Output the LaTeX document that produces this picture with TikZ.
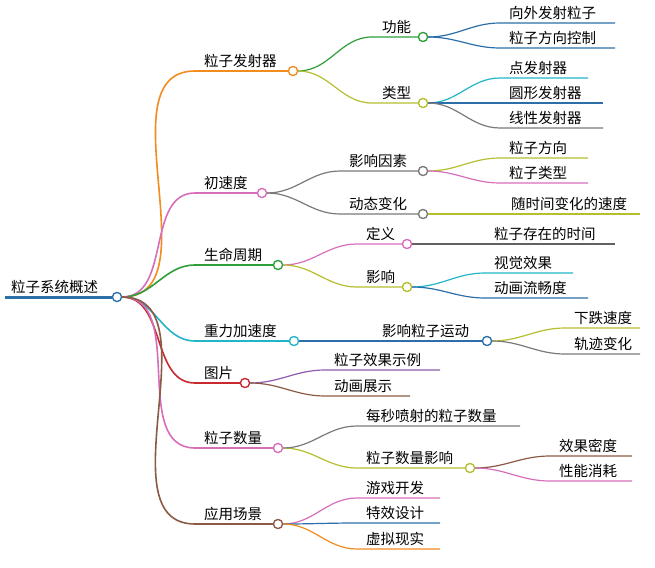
\documentclass[tikz,border=0pt]{standalone}
\usepackage{fontspec}
\newfontfamily\cjk{Noto Sans CJK SC}
\usetikzlibrary{positioning}
\definecolor{rootColor}{RGB}{44,111,168}
\definecolor{orangeColor}{RGB}{242,140,30}
\definecolor{pinkColor}{RGB}{214,110,186}
\definecolor{greenColor}{RGB}{46,158,58}
\definecolor{cyanColor}{RGB}{34,181,200}
\definecolor{redColor}{RGB}{200,40,46}
\definecolor{brownColor}{RGB}{139,90,68}
\definecolor{blueColor}{RGB}{44,111,168}
\definecolor{oliveColor}{RGB}{181,190,46}
\definecolor{grayColor}{RGB}{122,122,122}
\definecolor{purpleColor}{RGB}{142,91,173}
\tikzset{topic/.style={font=\cjk\fontsize{14.5}{15}\selectfont, inner sep=1pt, anchor=south west}}
\tikzset{knob/.style={circle, draw, fill=white, inner sep=0pt, minimum size=9pt, line width=1.2pt}}
\tikzset{branch/.style={line width=1.6pt}}
\tikzset{twig/.style={line width=1.2pt}}

\begin{document}
\begin{tikzpicture}[x=1pt, y=-1pt]
	\useasboundingbox (0,0) rectangle (655,567);
	% Root
	\node[topic] (root) at (10,295) {粒子系统概述};
	\node[knob, draw=rootColor] (rootk) at (117,297) {};
	\draw[rootColor, line width=3pt] (5,297) -- (rootk);

	% Level 1
	\coordinate (fsq) at (195,71);
	\node[topic] (fs) at (203,69) {粒子发射器};
	\node[knob, draw=orangeColor] (fsk) at (293,71) {};
	\coordinate (csq) at (195,193);
	\node[topic] (cs) at (203,191) {初速度};
	\node[knob, draw=pinkColor] (csk) at (262,193) {};
	\coordinate (smq) at (195,265);
	\node[topic] (sm) at (203,263) {生命周期};
	\node[knob, draw=greenColor] (smk) at (278,265) {};
	\coordinate (zlq) at (195,341);
	\node[topic] (zl) at (203,339) {重力加速度};
	\node[knob, draw=cyanColor] (zlk) at (294,341) {};
	\coordinate (tpq) at (195,383);
	\node[topic] (tp) at (203,381) {图片};
	\node[knob, draw=redColor] (tpk) at (245,383) {};
	\coordinate (slq) at (195,448);
	\node[topic] (sl) at (203,446) {粒子数量};
	\node[knob, draw=pinkColor] (slk) at (278,448) {};
	\coordinate (yyq) at (195,524);
	\node[topic] (yy) at (203,522) {应用场景};
	\node[knob, draw=brownColor] (yyk) at (278,524) {};

	% Level 2
	\coordinate (gnq) at (372,37);
	\node[topic] (gn) at (381,35) {功能};
	\node[knob, draw=greenColor] (gnk) at (423,37) {};
	\coordinate (lxq) at (372,103);
	\node[topic] (lx) at (381,101) {类型};
	\node[knob, draw=oliveColor] (lxk) at (423,103) {};
	\coordinate (yxq) at (340,171);
	\node[topic] (yx) at (348,169) {影响因素};
	\node[knob, draw=grayColor] (yxk) at (423,171) {};
	\coordinate (dtq) at (340,214);
	\node[topic] (dt) at (348,212) {动态变化};
	\node[knob, draw=grayColor] (dtk) at (423,214) {};
	\coordinate (dyq) at (357,244);
	\node[topic] (dy) at (365,242) {定义};
	\node[knob, draw=pinkColor] (dyk) at (407,244) {};
	\coordinate (yxbq) at (357,287);
	\node[topic] (yxb) at (365,285) {影响};
	\node[knob, draw=oliveColor] (yxbk) at (407,287) {};
	\node[topic] (yd) at (381,339) {影响粒子运动};
	\node[knob, draw=blueColor] (ydk) at (487,341) {};
	\coordinate (slyq) at (357,468);
	\node[topic] (sly) at (365,466) {粒子数量影响};
	\node[knob, draw=oliveColor] (slyk) at (470,468) {};

	% Leaves
	\coordinate (l1) at (500,23); \coordinate (l1e) at (615,23);
	\node[topic] at (508,21) {向外发射粒子};
	\coordinate (l2) at (500,48); \coordinate (l2e) at (615,48);
	\node[topic] at (508,46) {粒子方向控制};
	\coordinate (l3) at (500,78); \coordinate (l3e) at (588,78);
	\node[topic] at (508,76) {点发射器};
	\coordinate (l4) at (500,103); \coordinate (l4e) at (603,103);
	\node[topic] at (508,101) {圆形发射器};
	\coordinate (l5) at (500,128); \coordinate (l5e) at (603,128);
	\node[topic] at (508,126) {线性发射器};
	\coordinate (l6) at (500,158); \coordinate (l6e) at (588,158);
	\node[topic] at (508,156) {粒子方向};
	\coordinate (l7) at (500,183); \coordinate (l7e) at (588,183);
	\node[topic] at (508,181) {粒子类型};
	\coordinate (l8e) at (640,214);
	\node[topic] at (510,212) {随时间变化的速度};
	\coordinate (l9e) at (615,244);
	\node[topic] at (493,242) {粒子存在的时间};
	\coordinate (l10) at (485,273); \coordinate (l10e) at (573,273);
	\node[topic] at (493,271) {视觉效果};
	\coordinate (l11) at (485,298); \coordinate (l11e) at (588,298);
	\node[topic] at (493,296) {动画流畅度};
	\coordinate (l12) at (565,328); \coordinate (l12e) at (640,328);
	\node[topic] at (573,326) {下跌速度};
	\coordinate (l13) at (565,354); \coordinate (l13e) at (640,354);
	\node[topic] at (573,352) {轨迹变化};
	\coordinate (l14) at (325,370); \coordinate (l14e) at (440,370);
	\node[topic] at (333,368) {粒子效果示例};
	\coordinate (l15) at (325,396); \coordinate (l15e) at (410,396);
	\node[topic] at (333,394) {动画展示};
	\coordinate (l16) at (357,426); \coordinate (l16e) at (520,426);
	\node[topic] at (365,424) {每秒喷射的粒子数量};
	\coordinate (l17) at (550,456); \coordinate (l17e) at (632,456);
	\node[topic] at (558,454) {效果密度};
	\coordinate (l18) at (550,481); \coordinate (l18e) at (632,481);
	\node[topic] at (558,479) {性能消耗};
	\coordinate (l19) at (357,498); \coordinate (l19e) at (440,498);
	\node[topic] at (365,496) {游戏开发};
	\coordinate (l20) at (357,523); \coordinate (l20e) at (440,523);
	\node[topic] at (365,521) {特效设计};
	\coordinate (l21) at (357,549); \coordinate (l21e) at (440,549);
	\node[topic] at (365,547) {虚拟现实};

	% Connectors
	\begin{scope}[branch]
	\draw[orangeColor] (rootk) to[out=0,in=180] (fsq) -- (fsk);
	\draw[pinkColor] (rootk) to[out=0,in=180] (csq) -- (csk);
	\draw[greenColor] (rootk) to[out=0,in=180] (smq) -- (smk);
	\draw[cyanColor] (rootk) to[out=0,in=180] (zlq) -- (zlk);
	\draw[redColor] (rootk) to[out=0,in=180] (tpq) -- (tpk);
	\draw[pinkColor] (rootk) to[out=0,in=180] (slq) -- (slk);
	\draw[brownColor] (rootk) to[out=0,in=180] (yyq) -- (yyk);
	\end{scope}
	\begin{scope}[twig]
	\draw[greenColor] (fsk) to[out=0,in=180] (gnq) -- (gnk);
	\draw[oliveColor] (fsk) to[out=0,in=180] (lxq) -- (lxk);
	\draw[grayColor] (csk) to[out=0,in=180] (yxq) -- (yxk);
	\draw[grayColor] (csk) to[out=0,in=180] (dtq) -- (dtk);
	\draw[pinkColor] (smk) to[out=0,in=180] (dyq) -- (dyk);
	\draw[oliveColor] (smk) to[out=0,in=180] (yxbq) -- (yxbk);
	\draw[blueColor] (zlk) -- (ydk);
	\draw[oliveColor] (slk) to[out=0,in=180] (slyq) -- (slyk);
	\draw[blueColor] (gnk) to[out=0,in=180] (l1) -- (l1e);
	\draw[blueColor] (gnk) to[out=0,in=180] (l2) -- (l2e);
	\draw[cyanColor] (lxk) to[out=0,in=180] (l3) -- (l3e);
	\draw[blueColor] (lxk) -- (l4e);
	\draw[grayColor] (lxk) to[out=0,in=180] (l5) -- (l5e);
	\draw[oliveColor] (yxk) to[out=0,in=180] (l6) -- (l6e);
	\draw[pinkColor] (yxk) to[out=0,in=180] (l7) -- (l7e);
	\draw[oliveColor] (dtk) -- (l8e);
	\draw[grayColor!80!black] (dyk) -- (l9e);
	\draw[cyanColor] (yxbk) to[out=0,in=180] (l10) -- (l10e);
	\draw[blueColor] (yxbk) to[out=0,in=180] (l11) -- (l11e);
	\draw[oliveColor] (ydk) to[out=0,in=180] (l12) -- (l12e);
	\draw[grayColor] (ydk) to[out=0,in=180] (l13) -- (l13e);
	\draw[purpleColor] (tpk) to[out=0,in=180] (l14) -- (l14e);
	\draw[brownColor] (tpk) to[out=0,in=180] (l15) -- (l15e);
	\draw[grayColor] (slk) to[out=0,in=180] (l16) -- (l16e);
	\draw[brownColor] (slyk) to[out=0,in=180] (l17) -- (l17e);
	\draw[pinkColor] (slyk) to[out=0,in=180] (l18) -- (l18e);
	\draw[pinkColor] (yyk) to[out=0,in=180] (l19) -- (l19e);
	\draw[blueColor] (yyk) to[out=0,in=180] (l20) -- (l20e);
	\draw[orangeColor] (yyk) to[out=0,in=180] (l21) -- (l21e);
	\end{scope}
	% Knobs on top
	\foreach \k/\c in {rootk/rootColor,fsk/orangeColor,csk/pinkColor,smk/greenColor,zlk/cyanColor,tpk/redColor,slk/pinkColor,yyk/brownColor,gnk/greenColor,lxk/oliveColor,yxk/grayColor,dtk/grayColor,dyk/pinkColor,yxbk/oliveColor,ydk/blueColor,slyk/oliveColor}
		\node[knob, draw=\c] at (\k) {};
\end{tikzpicture}
\end{document}
